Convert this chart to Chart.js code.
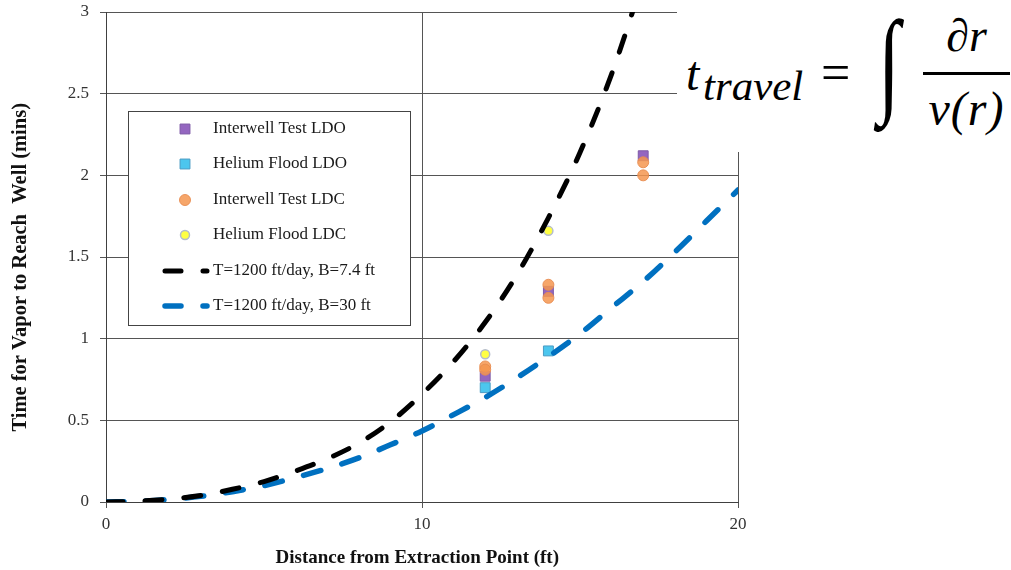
<!DOCTYPE html>
<html>
<head>
<meta charset="utf-8">
<script src="https://cdn.jsdelivr.net/npm/chart.js@4.4.1/dist/chart.umd.min.js"></script>
<style>
  html, body { margin: 0; padding: 0; background: #fff; }
  #wrap { position: relative; width: 1011px; height: 570px; overflow: hidden; }
  #chart { position: absolute; left: 0; top: 0; }
  .f { position: absolute; font-family: 'Liberation Serif', 'Times New Roman', serif; color: #000; line-height: 1; white-space: nowrap; }
  .it { font-style: italic; }
</style>
</head>
<body>
<div id="wrap">
  <canvas id="chart" width="1011" height="570"></canvas>
  <!-- equation panel pasted over the top-right corner -->
  <div class="f" style="left:677px;top:0;width:334px;height:152px;background:#fff;"></div>
  <div class="f it" style="left:686px;top:50px;font-size:48px;">t</div>
  <div class="f it" style="left:703px;top:64px;font-size:43px;">travel</div>
  <div class="f" style="left:821px;top:47px;font-size:52px;">=</div>
  <div class="f" style="left:878px;top:4px;font-size:80px;transform:scaleY(1.45);transform-origin:top left;">&#8747;</div>
  <div class="f it" style="left:923px;top:13px;width:87px;text-align:center;font-size:46px;">&#8706;r</div>
  <div class="f" style="left:923px;top:72px;width:87px;height:3px;background:#000;"></div>
  <div class="f it" style="left:923px;top:85px;width:87px;text-align:center;font-size:48px;letter-spacing:1px;">v(r)</div>
</div>
<script>
// distance from extraction point (ft)
var CURVE_X_74 = [0, 1, 2, 3, 4, 5, 6, 7, 8, 9, 10, 11, 12, 13, 14, 15, 16, 17];
var CURVE_Y_74 = [0, 0.005, 0.018, 0.04, 0.078, 0.125, 0.19, 0.265, 0.36, 0.49, 0.66, 0.86, 1.10, 1.39, 1.74, 2.14, 2.62, 3.2];
var CURVE_X_30 = [0, 1, 2, 3, 4, 5, 6, 7, 8, 9, 10, 11, 12, 13, 14, 15, 16, 17, 18, 19, 20];
var CURVE_Y_30 = [0, 0.004, 0.016, 0.035, 0.063, 0.10, 0.15, 0.205, 0.27, 0.35, 0.435, 0.535, 0.64, 0.76, 0.89, 1.03, 1.19, 1.35, 1.53, 1.72, 1.91];

var IW_LDO_X = [12, 14, 17];
var IW_LDO_Y = [0.77, 1.29, 2.12];
var HE_LDO_X = [12, 14];
var HE_LDO_Y = [0.70, 0.925];
var IW_LDC_X = [12, 12, 14, 14, 17, 17];
var IW_LDC_Y = [0.83, 0.81, 1.33, 1.25, 2.08, 2.00];
var HE_LDC_X = [12, 14];
var HE_LDC_Y = [0.905, 1.66];

var X_TICK_STEP = 10;
var Y_TICK_STEP = 0.5;

function pts(xs, ys) {
  return xs.map(function (x, i) { return { x: x, y: ys[i] }; });
}

Chart.defaults.font.family = "'Liberation Serif', 'Times New Roman', serif";

var GRID = '#555';

// datasets listed top-most first (chart.js draws index 0 last)
var datasets = [
  {
    label: 'T=1200 ft/day, B=7.4 ft',
    data: pts(CURVE_X_74, CURVE_Y_74),
    showLine: true, borderColor: '#000', borderWidth: 5,
    borderDash: [17, 22], borderCapStyle: 'round',
    cubicInterpolationMode: 'monotone', pointRadius: 0
  },
  {
    label: 'T=1200 ft/day, B=30 ft',
    data: pts(CURVE_X_30, CURVE_Y_30),
    showLine: true, borderColor: '#0070c0', borderWidth: 5.5,
    borderDash: [18, 22], borderCapStyle: 'round',
    cubicInterpolationMode: 'monotone', pointRadius: 0
  },
  {
    label: 'Interwell Test LDC',
    data: pts(IW_LDC_X, IW_LDC_Y),
    pointStyle: 'circle', pointRadius: 5.5, borderWidth: 1,
    backgroundColor: 'rgba(245,150,80,0.85)', borderColor: 'rgba(232,140,80,0.9)'
  },
  {
    label: 'Helium Flood LDC',
    data: pts(HE_LDC_X, HE_LDC_Y),
    pointStyle: 'circle', pointRadius: 4.5, borderWidth: 1.5,
    backgroundColor: '#ffff44', borderColor: '#b4bccc'
  },
  {
    label: 'Interwell Test LDO',
    data: pts(IW_LDO_X, IW_LDO_Y),
    pointStyle: 'rect', pointRadius: 7, borderWidth: 1,
    backgroundColor: '#9466c0', borderColor: '#7e5aa6'
  },
  {
    label: 'Helium Flood LDO',
    data: pts(HE_LDO_X, HE_LDO_Y),
    pointStyle: 'rect', pointRadius: 7, borderWidth: 1,
    backgroundColor: '#4cc6ee', borderColor: '#4a9cc4'
  }
];

var LEGEND_ORDER = [
  'Interwell Test LDO', 'Helium Flood LDO', 'Interwell Test LDC',
  'Helium Flood LDC', 'T=1200 ft/day, B=7.4 ft', 'T=1200 ft/day, B=30 ft'
];

// boxed legend sitting inside the plot, like the original
var boxLegend = {
  id: 'boxLegend',
  afterDatasetsDraw: function (chart) {
    var ctx = chart.ctx;
    var rowY = [129, 164, 200, 235, 271, 306];
    ctx.save();
    ctx.fillStyle = '#fff';
    ctx.fillRect(128.5, 111.5, 282, 214);
    ctx.strokeStyle = '#444';
    ctx.lineWidth = 1;
    ctx.strokeRect(128.5, 111.5, 282, 214);
    ctx.font = "17px 'Liberation Serif', 'Times New Roman', serif";
    ctx.textBaseline = 'middle';
    LEGEND_ORDER.forEach(function (name, i) {
      var ds = chart.data.datasets.find(function (d) { return d.label === name; });
      var y = rowY[i];
      ctx.setLineDash([]);
      if (ds.showLine) {
        ctx.strokeStyle = ds.borderColor;
        ctx.lineWidth = ds.borderWidth;
        ctx.lineCap = 'round';
        ctx.beginPath();
        ctx.moveTo(165, y); ctx.lineTo(181, y);
        ctx.moveTo(203, y); ctx.lineTo(207, y);
        ctx.stroke();
      } else {
        ctx.fillStyle = ds.backgroundColor;
        ctx.strokeStyle = ds.borderColor;
        ctx.lineWidth = ds.borderWidth;
        ctx.beginPath();
        if (ds.pointStyle === 'rect') {
          var s = ds.pointRadius * Math.SQRT1_2;
          ctx.rect(185 - s, y - s, 2 * s, 2 * s);
        } else {
          ctx.arc(185, y, ds.pointRadius, 0, Math.PI * 2);
        }
        ctx.fill();
        ctx.stroke();
      }
      ctx.fillStyle = '#1a1a1a';
      ctx.fillText(name, 213, y);
    });
    ctx.restore();
  }
};

new Chart(document.getElementById('chart').getContext('2d'), {
  type: 'scatter',
  data: { datasets: datasets },
  plugins: [boxLegend],
  options: {
    responsive: false,
    animation: false,
    layout: { padding: { left: 0, right: 273, top: 12, bottom: 0 } },
    plugins: { legend: { display: false }, tooltip: { enabled: false } },
    scales: {
      x: {
        type: 'linear', min: 0, max: 20,
        afterFit: function (s) { s.height = 68; },
        grid: { color: GRID, tickColor: GRID, tickLength: 6, lineWidth: 1 },
        border: { color: '#404040', width: 1 },
        ticks: { stepSize: X_TICK_STEP, color: '#333', padding: 6, font: { size: 17 } },
        title: {
          display: true, text: 'Distance from Extraction Point (ft)  ',
          color: '#111', font: { size: 19, weight: 'bold' },
          padding: { top: 0, bottom: 1 }
        }
      },
      y: {
        min: 0, max: 3,
        afterFit: function (s) { s.width = 106; s.paddingTop = 0; s.paddingBottom = 0; },
        grid: { color: GRID, tickColor: GRID, tickLength: 6, lineWidth: 1 },
        border: { color: '#404040', width: 1 },
        ticks: {
          stepSize: Y_TICK_STEP, color: '#333', padding: 11, font: { size: 17 },
          callback: function (v) { return String(v); }
        },
        title: {
          display: true, text: 'Time for Vapor to Reach  Well (mins)    ',
          color: '#111', font: { size: 20.5, weight: 'bold' },
          padding: { top: 8, bottom: 0 }
        }
      }
    }
  }
});
</script>
</body>
</html>
